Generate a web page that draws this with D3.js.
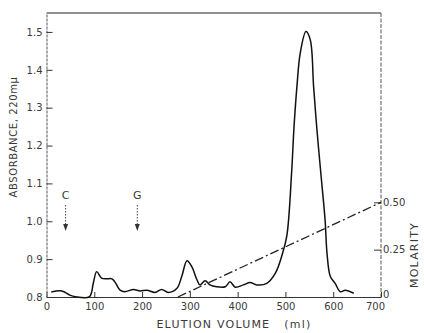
<!DOCTYPE html>
<html>
<head>
<meta charset="utf-8">
<script src="https://cdn.jsdelivr.net/npm/d3@7"></script>
<style>
    body { margin: 0; background: #fff; }
    svg { display: block; }
    text { font-family: "DejaVu Sans", sans-serif; fill: #3a3a3a; }
</style>
</head>
<body>
<div id="chart"></div>
<script>
// elution volume (ml) and absorbance at 220 mu
var volume = [10, 32, 49, 60, 90, 98, 105, 115, 126, 137, 143, 154, 164, 182, 196, 210, 227, 241, 255, 273,
    283, 294, 304, 315, 321, 332, 342, 356, 374, 384, 395, 412, 426, 440, 461, 479, 493, 503, 513, 518,
    524, 531, 543, 552, 559, 566, 574, 583, 587, 594, 604, 615, 625, 643];
var absorbance = [0.813, 0.816, 0.805, 0.801, 0.801, 0.837, 0.867, 0.850, 0.848, 0.848, 0.840, 0.818, 0.814, 0.820, 0.816, 0.818, 0.812, 0.820, 0.812, 0.823,
    0.854, 0.896, 0.880, 0.845, 0.832, 0.843, 0.832, 0.827, 0.827, 0.840, 0.826, 0.832, 0.838, 0.832, 0.836, 0.863, 0.911, 0.962, 1.130, 1.250,
    1.355, 1.444, 1.501, 1.479, 1.355, 1.241, 1.128, 1.003, 0.916, 0.854, 0.836, 0.814, 0.818, 0.810];

// salt gradient (right axis)
var gradientVolume = [275, 700];
var molarity = [0, 0.5];

// markers above the trace
var markerLabels = ["C", "G"];
var markerVolume = [40, 190];

var xTicks = [0, 100, 200, 300, 400, 500, 600, 700];
var yTicks = [0.8, 0.9, 1.0, 1.1, 1.2, 1.3, 1.4, 1.5];
var molTicks = [0, 0.25, 0.5];

var width = 424;
var height = 333;
// plot box (window.top is taken, hence the prefix)
var boxLeft = 46.5, boxRight = 381, boxTop = 13, boxBottom = 297;

var svg = d3.select("#chart").append("svg")
    .attr("width", width)
    .attr("height", height);

var x = d3.scaleLinear().domain([0, 700]).range([boxLeft, boxRight]);
var y = d3.scaleLinear().domain([0.8, 1.55]).range([boxBottom, boxTop]);
var yMol = d3.scaleLinear().domain([0, 1.5]).range([boxBottom, boxTop]);

// frame: top solid, right side a bit rough like the print
svg.append("line")
    .attr("x1", boxLeft).attr("x2", boxRight).attr("y1", boxTop).attr("y2", boxTop)
    .attr("stroke", "#222").attr("stroke-width", 1.2);
svg.append("line")
    .attr("x1", boxRight).attr("x2", boxRight).attr("y1", boxTop).attr("y2", boxBottom)
    .attr("stroke", "#555").attr("stroke-width", 1)
    .attr("stroke-dasharray", "4,1.5");

// axes, ticks point inside
var xAxis = svg.append("g")
    .attr("transform", "translate(0," + boxBottom + ")")
    .call(d3.axisBottom(x).tickValues(xTicks).tickSize(-5).tickSizeOuter(0).tickPadding(6));

var yAxis = svg.append("g")
    .attr("transform", "translate(" + boxLeft + ",0)")
    .call(d3.axisLeft(y).tickValues(yTicks).tickFormat(d3.format(".1f")).tickSize(-6).tickSizeOuter(0).tickPadding(4));

var molAxis = svg.append("g")
    .attr("transform", "translate(" + boxRight + ",0)")
    .call(d3.axisRight(yMol).tickValues(molTicks)
        .tickFormat(function (d) { return d === 0 ? "0" : d3.format(".2f")(d); })
        .tickSize(-7).tickSizeOuter(0).tickPadding(2));
molAxis.select(".domain").remove();

[xAxis, yAxis, molAxis].forEach(function (g) {
    g.selectAll("text")
        .style("font-family", "'DejaVu Sans', sans-serif")
        .style("font-size", "10px")
        .attr("fill", "#3a3a3a");
    g.selectAll("line").attr("stroke", "#333");
    g.select(".domain").attr("stroke", "#333").attr("stroke-width", 1.1);
});
yAxis.select(".domain").attr("stroke", "#666").attr("stroke-dasharray", "3,1");

// the last x label sits a little left in the print, the right 0 a little high
xAxis.selectAll(".tick text").filter(function (d) { return d === 700; }).attr("dx", -6);
molAxis.selectAll(".tick text").filter(function (d) { return d === 0; }).attr("y", -3);

// axis titles
svg.append("text")
    .attr("x", 234).attr("y", 328)
    .attr("text-anchor", "middle")
    .style("font-size", "11px")
    .style("letter-spacing", "1.2px")
    .style("white-space", "pre")
    .text("ELUTION VOLUME   (ml)");

svg.append("text")
    .attr("transform", "translate(17,137) rotate(-90)")
    .attr("text-anchor", "middle")
    .style("font-size", "10px")
    .style("letter-spacing", "0.6px")
    .text("ABSORBANCE, 220mμ");

svg.append("text")
    .attr("transform", "translate(418,255) rotate(-90)")
    .attr("text-anchor", "middle")
    .style("font-size", "11px")
    .style("letter-spacing", "1.2px")
    .text("MOLARITY");

// salt gradient, dash-dot
var molLine = d3.line()
    .x(function (d, i) { return x(gradientVolume[i]); })
    .y(function (d) { return yMol(d); });

svg.append("path")
    .datum(molarity)
    .attr("d", molLine)
    .attr("fill", "none")
    .attr("stroke", "#222")
    .attr("stroke-width", 1.3)
    .attr("stroke-dasharray", "9,3,2,3");

// absorbance trace
var line = d3.line()
    .x(function (d, i) { return x(volume[i]); })
    .y(function (d) { return y(d); })
    .curve(d3.curveCatmullRom.alpha(0.5));

svg.append("path")
    .datum(absorbance)
    .attr("d", line)
    .attr("fill", "none")
    .attr("stroke", "#111")
    .attr("stroke-width", 1.5);

// C and G arrows
var marker = svg.selectAll(".marker")
    .data(markerLabels)
    .enter().append("g")
    .attr("class", "marker")
    .attr("transform", function (d, i) { return "translate(" + x(markerVolume[i]) + ",0)"; });

marker.append("text")
    .attr("y", 199)
    .attr("text-anchor", "middle")
    .style("font-size", "11px")
    .text(function (d) { return d; });

marker.append("line")
    .attr("y1", 205).attr("y2", 226)
    .attr("stroke", "#444")
    .attr("stroke-dasharray", "1.5,1.5");

marker.append("path")
    .attr("d", "M-2.5,224 L0,231 L2.5,224 Z")
    .attr("fill", "#333");
</script>
</body>
</html>
